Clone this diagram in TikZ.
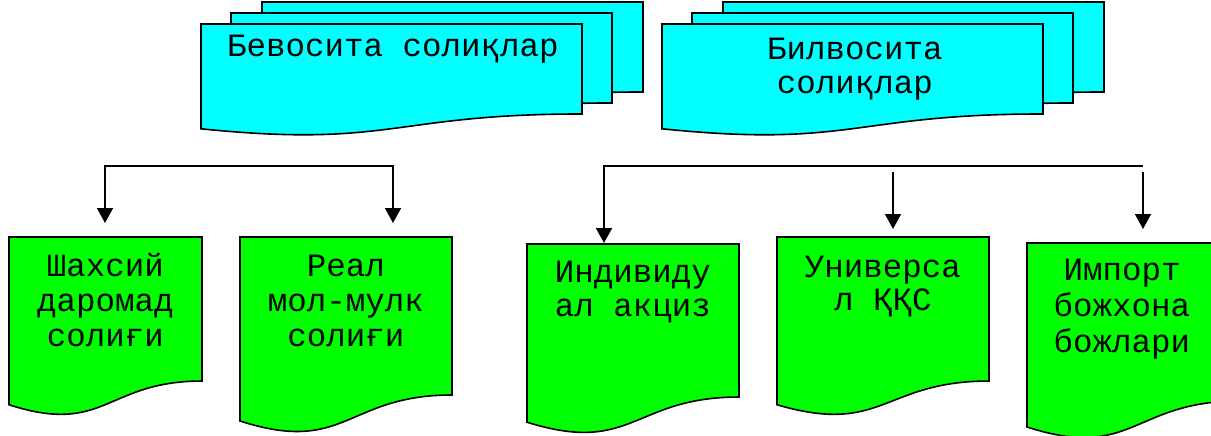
\documentclass[tikz,border=0pt]{standalone}
\usepackage{fontspec}
\newfontfamily\courfont{Liberation Mono}
\usetikzlibrary{arrows.meta}
\definecolor{cyanfill}{RGB}{0,255,255}
\definecolor{greenfill}{RGB}{0,255,0}
% document shape: fill, left, top, width, height
\newcommand\docshp[5]{%
  \draw[docborder, fill=#1] (#2,#3) -- ({#2+#4},#3) -- ({#2+#4},{#3+0.802*#5})
    .. controls ({#2+0.5*#4},{#3+0.802*#5}) and ({#2+0.5*#4},{#3+1.1075*#5}) .. (#2,{#3+0.934*#5}) -- cycle;}
\tikzset{
  docborder/.style={draw=black, line width=1.6pt, line join=miter},
  doctext/.style={font=\courfont\fontsize{32.5}{35}\selectfont, align=center, anchor=base, inner sep=0pt},
  conn/.style={draw=black, line width=1.6pt},
  arrowtip/.style={-{Triangle[width=16pt,length=15pt]}},
}
\begin{document}
\begin{tikzpicture}[x=1pt,y=-1pt]
\useasboundingbox (0,0) rectangle (1211,436);
\clip (0,0) rectangle (1211,436);
% top left stack
\docshp{cyanfill}{262}{2}{381}{112.2}
\docshp{cyanfill}{231}{13}{381}{112.2}
\docshp{cyanfill}{201}{24}{381}{112.2}
\node[doctext] (indirect) at (393,57) {Бевосита солиқлар};
% top right stack
\docshp{cyanfill}{723}{2}{381}{112.2}
\docshp{cyanfill}{692}{13}{381}{112.2}
\docshp{cyanfill}{662}{24}{381}{112.2}
\node[doctext, font=\courfont\fontsize{32.5}{34}\selectfont] (direct) at (855,94) {Билвосита\\солиқлар};
% bottom documents (node placed at baseline of its last line)
\docshp{greenfill}{9}{237}{193}{179.6}
\node[doctext] (pit) at (105.5,346) {Шахсий\\даромад\\солиғи};
\docshp{greenfill}{240}{237}{212}{197}
\node[doctext] (prop) at (346,346) {Реал\\мол-мулк\\солиғи};
\docshp{greenfill}{527}{244}{212}{190.8}
\node[doctext, font=\courfont\fontsize{32.5}{34}\selectfont] (excise) at (633,316) {Индивиду\\ал акциз};
\docshp{greenfill}{777}{237}{212}{179.6}
\node[doctext, font=\courfont\fontsize{32.5}{33}\selectfont] (vat) at (883,310) {Универса\\л ҚҚС};
\docshp{greenfill}{1027}{243}{212}{197}
\node[doctext, font=\courfont\fontsize{32.5}{36}\selectfont] (duty) at (1122,352) {Импорт\\божхона\\божлари};
% connectors
\coordinate (la) at (105,166);
\coordinate (lb) at (393,166);
\coordinate (ta) at (105,223);
\coordinate (tb) at (393,223);
\draw[conn, {Triangle[width=16pt,length=15pt]}-{Triangle[width=16pt,length=15pt]}] (ta) -- (la) -- (lb) -- (tb);
\coordinate (ra) at (604,166);
\coordinate (rb) at (1143,166);
\coordinate (tc) at (604,243);
\draw[conn, {Triangle[width=16pt,length=15pt]}-] (tc) -- (ra) -- (rb);
\coordinate (sd) at (893,172);
\coordinate (td) at (893,229);
\draw[conn, arrowtip] (sd) -- (td);
\coordinate (se) at (1143,172);
\coordinate (te) at (1143,229);
\draw[conn, arrowtip] (se) -- (te);
\end{tikzpicture}
\end{document}
